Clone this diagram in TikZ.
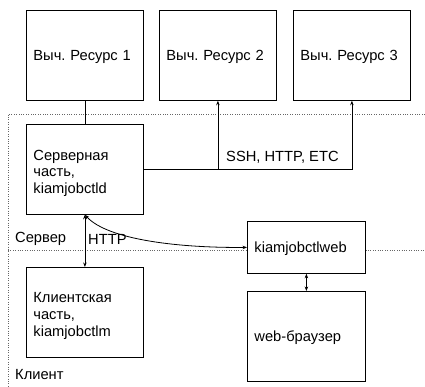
\documentclass[tikz,border=0pt]{standalone}
\usepackage{fontspec}
\setmainfont{Liberation Sans}
\usetikzlibrary{arrows.meta}
\frenchspacing
\begin{document}
\begin{tikzpicture}[x=1pt,y=-1pt,
  box/.style={draw, fill=white, line width=0.8pt, anchor=north west, inner xsep=7pt, inner ysep=0pt,
    text width=#1, align=left, text depth=0pt, font=\fontsize{14.7}{16.8}\selectfont},
  box/.default=103pt,
  three lines/.style={text depth=29pt},
  lbl/.style={anchor=west, inner sep=0pt, font=\fontsize{14.7}{16.8}\selectfont},
  con/.style={line width=0.8pt},
  arr/.style={con, -{Stealth[length=4.5pt,width=3.5pt]}},
  darr/.style={con, {Stealth[length=4.5pt,width=3.5pt]}-{Stealth[length=4.5pt,width=3.5pt]}},
  zone/.style={gray!80!black, line width=0.7pt, dash pattern=on 0.8pt off 1.6pt}]
\useasboundingbox (0,0) rectangle (425,387);
% zone borders
\draw[zone] (425,114) -- (8,114) -- (8,387);
\draw[zone] (8,250) -- (425,250);
% boxes
\node[box, minimum height=90pt] (r1) at (26,10) {Выч. Ресурс 1};
\node[box, minimum height=90pt] (r2) at (159,10) {Выч. Ресурс 2};
\node[box, minimum height=90pt] (r3) at (293,10) {Выч. Ресурс 3};
\node[box, three lines, minimum height=90pt] (srv) at (26,124) {Серверная\\часть,\\kiamjobctld};
\node[box, three lines, minimum height=90pt] (cli) at (26,267) {Клиентская\\часть,\\kiamjobctlm};
\node[box=104pt, minimum height=52pt] (web) at (247,221) {kiamjobctlweb};
\node[box=104pt, minimum height=90pt] (brw) at (247,291) {web-браузер};
% labels
\node[lbl] (ssh) at (226,157) {SSH, HTTP, ETC};
\node[lbl] (srvl) at (15,239) {Сервер};
\node[lbl] (http) at (88,239) {HTTP};
\node[lbl] (clil) at (15,375) {Клиент};
% connectors
\draw[con] (r1.south) -- (srv.north);
\draw[arr] (srv.east) -| (r2.south);
\draw[arr] (srv.east) -| (r3.south);
\draw[darr] (srv.south) -- (cli.north);
\draw[darr] (srv.south) .. controls (108,240) and (180,248) .. (web.west);
\draw[darr] (web.south) -- (brw.north);
\end{tikzpicture}
\end{document}
